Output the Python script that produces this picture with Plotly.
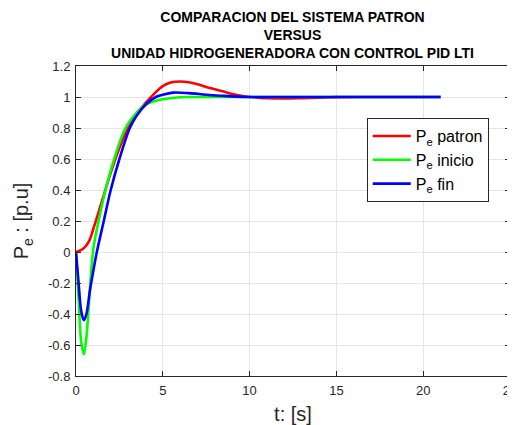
import plotly.graph_objects as go

# --- data ---
t_patron = [0, 0.25, 0.5, 0.75, 1.0, 1.5, 2.0, 2.5, 3.0, 3.5, 4.0, 4.5, 5.0, 5.5, 6.0, 6.5, 7.0, 7.5, 8.0, 8.5, 9.0, 9.5, 10, 11, 12, 13, 14, 15, 17, 19, 21]
pe_patron = [0, 0.01, 0.03, 0.07, 0.15, 0.33, 0.51, 0.67, 0.80, 0.89, 0.96, 1.02, 1.07, 1.095, 1.10, 1.095, 1.082, 1.065, 1.05, 1.035, 1.02, 1.008, 1.0, 0.993, 0.991, 0.993, 0.996, 0.999, 1.0, 1.0, 1.0]

t_inicio = [0, 0.15, 0.3, 0.45, 0.6, 0.75, 1.0, 1.3, 1.7, 2.2, 2.85, 3.5, 4.0, 5.0, 6.0, 7.0, 9.0, 12, 15, 18, 21]
pe_inicio = [0, -0.3, -0.58, -0.66, -0.55, -0.32, 0.02, 0.2, 0.4, 0.6, 0.8, 0.9, 0.95, 0.985, 0.998, 1.0, 1.0, 1.0, 1.0, 1.0, 1.0]

t_fin = [0, 0.15, 0.3, 0.45, 0.6, 0.8, 1.0, 1.2, 1.6, 2.0, 2.5, 3.1, 3.5, 4.0, 4.6, 5.0, 5.6, 6.5, 7.5, 8.5, 10, 12, 15, 18, 21]
pe_fin = [0, -0.2, -0.38, -0.44, -0.4, -0.25, -0.12, 0.0, 0.2, 0.4, 0.6, 0.8, 0.88, 0.95, 1.0, 1.015, 1.028, 1.025, 1.015, 1.007, 1.0, 1.0, 1.0, 1.0, 1.0]

series_names = ["P<sub>e</sub> patron", "P<sub>e</sub> inicio", "P<sub>e</sub> fin"]
series_colors = ["#FF0000", "#00FF00", "#0000FF"]

x_ticks = [0, 5, 10, 15, 20, 25]
y_ticks = [-0.8, -0.6, -0.4, -0.2, 0, 0.2, 0.4, 0.6, 0.8, 1, 1.2]
y_ticktext = ["-0.8", "-0.6", "-0.4", "-0.2", "0", "0.2", "0.4", "0.6", "0.8", "1", "1.2"]

fig = go.Figure()
for tt, yy, name, col in zip([t_patron, t_inicio, t_fin], [pe_patron, pe_inicio, pe_fin], series_names, series_colors):
    fig.add_trace(go.Scatter(x=tt, y=yy, mode="lines", name=name,
                             line=dict(color=col, width=2.6, shape="spline", smoothing=1.0)))

axis_common = dict(showline=True, linecolor="#262626", linewidth=1, mirror="ticks",
                   ticks="inside", ticklen=5, tickcolor="#262626", automargin=False,
                   ticklabelstandoff=2, ticklabeloverflow="allow",
                   showgrid=True, gridcolor="#E6E6E6", gridwidth=1, zeroline=False,
                   tickfont=dict(family="Liberation Sans, Arial", size=13, color="#262626"))

# page body has an 8px margin, so the figure is sized/offset to compensate
W, H = 507, 417
fig.update_layout(
    width=W, height=H,
    margin=dict(l=68, r=5, t=58, b=49, autoexpand=False),
    paper_bgcolor="white", plot_bgcolor="white",
    title=dict(text="<b>COMPARACION DEL SISTEMA PATRON<br>VERSUS<br>UNIDAD HIDROGENERADORA CON CONTROL PID LTI</b>",
               x=284.5 / W, xanchor="center", xref="container",
               y=1 - 14 / H, yanchor="top", yref="container",
               font=dict(family="Liberation Sans, Arial", size=14, color="black")),
    xaxis=dict(range=[0, 25], tickvals=x_ticks,
               title=dict(text="t: [s]", font=dict(family="Liberation Sans, Arial", size=20, color="#262626"), standoff=14),
               **axis_common),
    yaxis=dict(range=[-0.8, 1.2], tickvals=y_ticks, ticktext=y_ticktext,
               title=dict(text="P<sub>e</sub> : [p.u]", font=dict(family="Liberation Sans, Arial", size=20, color="#262626"), standoff=13),
               **axis_common),
    legend=dict(x=0.67, y=0.832, xanchor="left", yanchor="top",
                bgcolor="white", bordercolor="#262626", borderwidth=1,
                itemwidth=38,
                font=dict(family="Liberation Sans, Arial", size=16, color="black"),
                tracegroupgap=0),
    showlegend=True,
)

fig.write_html("out.html")
